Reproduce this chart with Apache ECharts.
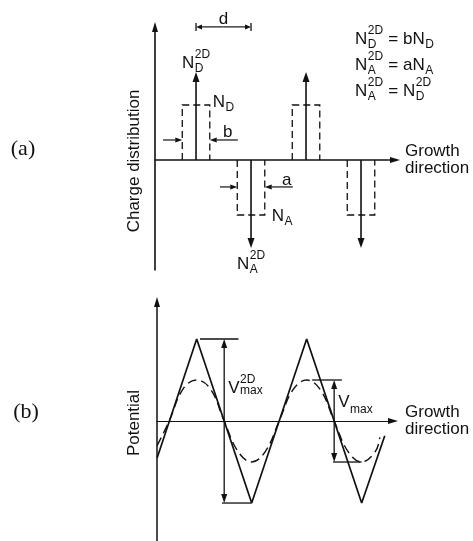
<!DOCTYPE html>
<html>
<head>
<meta charset="utf-8">
<script src="https://cdn.jsdelivr.net/npm/echarts@6/dist/echarts.min.js"></script>
<style>
  html, body { margin: 0; padding: 0; background: #fff; }
  #chart { width: 473px; height: 541px; }
</style>
</head>
<body>
<div id="chart"></div>
<script>
// Doping profile and resulting potential along the growth direction.
// x values are in units of the period d.

// (a) charge distribution
const donorX = [1.0, 2.0];        // delta-doped donor sheets
const acceptorX = [1.5, 2.5];     // delta-doped acceptor sheets
const sheetCharge = 1.6;          // N2D spike height
const bulkCharge = 1.0;           // N_D / N_A slab height
const layerHalf = 0.125;          // half thickness of the smeared layers (b, a)

// (b) potential: delta doping (solid) and slab doping (dashed)
const deltaX = [0.64, 1.0, 1.5, 2.0, 2.5, 2.71];
const deltaV = [-0.45, 1.0, -1.0, 1.0, -1.0, -0.18];
const slabX = [0.64, 0.75, 0.875, 1.0, 1.125, 1.25, 1.375, 1.5, 1.625, 1.75, 1.875, 2.0, 2.125, 2.25, 2.375, 2.5, 2.625, 2.665];
const slabV = [-0.3, 0, 0.39, 0.5, 0.39, 0, -0.37, -0.5, -0.37, 0, 0.38, 0.5, 0.38, 0, -0.37, -0.5, -0.37, -0.2];

const INK = '#111';
const SANS = '"Liberation Sans", Arial, Helvetica, sans-serif';
const SERIF = '"Liberation Serif", "Times New Roman", serif';

const zip = (xs, ys) => xs.map((x, i) => [x, ys[i]]);
const spikes = donorX.map(x => [x, sheetCharge]).concat(acceptorX.map(x => [x, -sheetCharge]));
const slabs = donorX.map(x => [x, bulkCharge]).concat(acceptorX.map(x => [x, -bulkCharge]));

function axisX(grid, min, max, lw) {
  return {
    type: 'value', gridIndex: grid, min, max,
    axisLine: { onZero: true, lineStyle: { color: INK, width: lw },
                symbol: ['none', 'triangle'], symbolSize: [6, 10] },
    axisTick: { show: false }, axisLabel: { show: false }, splitLine: { show: false }
  };
}
function axisY(grid, min, max, lw) {
  return {
    type: 'value', gridIndex: grid, min, max,
    axisLine: { onZero: false, lineStyle: { color: INK, width: lw },
                symbol: ['none', 'triangle'], symbolSize: [6, 10] },
    axisTick: { show: false }, axisLabel: { show: false }, splitLine: { show: false }
  };
}

function headPoints(tip, from, L, W) {
  const dx = tip[0] - from[0], dy = tip[1] - from[1];
  const len = Math.hypot(dx, dy) || 1;
  const ux = dx / len, uy = dy / len;
  const bx = tip[0] - ux * L, by = tip[1] - uy * L;
  const nx = -uy, ny = ux;
  return { base: [bx, by], pts: [tip, [bx + nx * W / 2, by + ny * W / 2], [bx - nx * W / 2, by - ny * W / 2]] };
}

function renderSpike(params, api) {
  const x = api.value(0), h = api.value(1);
  const p0 = api.coord([x, 0]);
  const p1 = api.coord([x, h]);
  const hd = headPoints(p1, p0, 10, 7);
  return {
    type: 'group',
    children: [
      { type: 'line', shape: { x1: p0[0], y1: p0[1], x2: hd.base[0], y2: hd.base[1] },
        style: { stroke: INK, lineWidth: 1.6 } },
      { type: 'polygon', shape: { points: hd.pts }, style: { fill: INK } }
    ]
  };
}

function renderSlab(params, api) {
  const x = api.value(0), h = api.value(1);
  const pts = [
    api.coord([x - layerHalf, 0]), api.coord([x - layerHalf, h]),
    api.coord([x + layerHalf, h]), api.coord([x + layerHalf, 0])
  ];
  return { type: 'polyline', shape: { points: pts },
           style: { stroke: INK, fill: 'none', lineWidth: 1.3, lineDash: [7, 4] } };
}

const chart = echarts.init(document.getElementById('chart'), null, { renderer: 'canvas' });
chart.setOption({
  animation: false,
  backgroundColor: '#fff',
  grid: [
    { left: 155, top: 27, width: 240, height: 243 },
    { left: 157, top: 302, width: 236, height: 239 }
  ],
  xAxis: [axisX(0, 0.627, 2.809, 1.6), axisX(1, 0.639, 2.785, 1.1)],
  yAxis: [axisY(0, -2, 2.418, 1.6), axisY(1, -1.463, 1.451, 1.5)],
  series: [
    { type: 'custom', xAxisIndex: 0, yAxisIndex: 0, data: slabs, renderItem: renderSlab, clip: false, silent: true },
    { type: 'custom', xAxisIndex: 0, yAxisIndex: 0, data: spikes, renderItem: renderSpike, clip: false, silent: true },
    { type: 'line', xAxisIndex: 1, yAxisIndex: 1, data: zip(slabX, slabV), smooth: 0.4,
      showSymbol: false, silent: true, lineStyle: { color: INK, width: 1.4, type: [9, 5] } },
    { type: 'line', xAxisIndex: 1, yAxisIndex: 1, data: zip(deltaX, deltaV),
      showSymbol: false, silent: true, lineStyle: { color: INK, width: 1.7 } }
  ]
});

// ---- annotations ----
const meas = document.createElement('canvas').getContext('2d');
function textW(s, size, family) {
  meas.font = size + 'px ' + (family || SANS);
  return meas.measureText(s).width;
}
function txt(s, x, baseline, size, family) {
  return {
    type: 'text', x: x, y: baseline - 0.35 * size, silent: true,
    style: { text: s, font: size + 'px ' + (family || SANS), fill: INK,
             align: 'left', verticalAlign: 'middle', textAlign: 'left', textVerticalAlign: 'middle' }
  };
}
// tokens: plain strings or {b, sup, sub, subDy}
function label(x, baseline, tokens, F, f) {
  F = F || 17; f = f || 12;
  const out = [];
  let cx = x;
  tokens.forEach(tk => {
    if (typeof tk === 'string') { out.push(txt(tk, cx, baseline, F)); cx += textW(tk, F); return; }
    out.push(txt(tk.b, cx, baseline, F)); cx += textW(tk.b, F);
    let w = 0;
    if (tk.sup) { out.push(txt(tk.sup, cx + 0.5, baseline - 10, f)); w = Math.max(w, textW(tk.sup, f)); }
    if (tk.sub) { out.push(txt(tk.sub, cx + 0.5, baseline + (tk.subDy == null ? 4 : tk.subDy), f)); w = Math.max(w, textW(tk.sub, f)); }
    cx += w + 1;
  });
  return out;
}
function seg(a, b, lw) {
  return { type: 'line', silent: true, shape: { x1: a[0], y1: a[1], x2: b[0], y2: b[1] },
           style: { stroke: INK, lineWidth: lw || 1.3 } };
}
function arrow(from, tip, L, W, lw) {
  const hd = headPoints(tip, from, L || 8, W || 6);
  return [seg(from, hd.base, lw), { type: 'polygon', silent: true, shape: { points: hd.pts }, style: { fill: INK } }];
}
function dblArrow(a, b, L, W, lw) {
  const m = [(a[0] + b[0]) / 2, (a[1] + b[1]) / 2];
  return arrow(m, a, L, W, lw).concat(arrow(m, b, L, W, lw));
}
function centered(s, x, y, size, family, rot) {
  return { type: 'text', x: x, y: y, rotation: rot || 0, silent: true,
           style: { text: s, font: size + 'px ' + (family || SANS), fill: INK, lineHeight: 17,
                    align: 'center', verticalAlign: 'middle', textAlign: 'center', textVerticalAlign: 'middle' } };
}
function leftBlock(s, x, y, size) {
  return { type: 'text', x: x, y: y, silent: true,
           style: { text: s, font: size + 'px ' + SANS, fill: INK, lineHeight: 17,
                    align: 'left', verticalAlign: 'middle', textAlign: 'left', textVerticalAlign: 'middle' } };
}

function annotate() {
  const A = (x, y) => chart.convertToPixel({ gridIndex: 0 }, [x, y]);
  const B = (x, y) => chart.convertToPixel({ gridIndex: 1 }, [x, y]);
  let g = [];

  // period marker d (donor to acceptor spacing)
  const dy = 2.42;
  const d0 = A(donorX[0], dy), d1 = A(acceptorX[0], dy);
  g.push(seg([d0[0], d0[1] - 4], [d0[0], d0[1] + 4]), seg([d1[0], d1[1] - 4], [d1[0], d1[1] + 4]));
  g = g.concat(dblArrow(d0, d1, 6, 5, 1.2));
  g.push(centered('d', (d0[0] + d1[0]) / 2, d0[1] - 8, 17));

  // layer thickness b
  const by = 0.364;
  g = g.concat(arrow(A(0.70, by), A(donorX[0] - layerHalf, by), 7, 5, 1.2));
  g = g.concat(arrow(A(1.38, by), A(donorX[0] + layerHalf, by), 7, 5, 1.2));
  const bl = A(donorX[0] + layerHalf, by);
  g.push(centered('b', bl[0] + 18, bl[1] - 8, 17));

  // layer thickness a
  const ay = -0.49;
  g = g.concat(arrow(A(1.218, ay), A(acceptorX[0] - layerHalf, ay), 7, 5, 1.2));
  g = g.concat(arrow(A(1.88, ay), A(acceptorX[0] + layerHalf, ay), 7, 5, 1.2));
  const al = A(acceptorX[0] + layerHalf, ay);
  g.push(centered('a', al[0] + 22, al[1] - 7, 17));

  // sheet and slab labels
  const tD = A(donorX[0], sheetCharge);
  g = g.concat(label(tD[0] - 14, tD[1] - 3, [{ b: 'N', sup: '2D', sub: 'D' }]));
  const cD = A(donorX[0] + layerHalf, bulkCharge);
  g = g.concat(label(cD[0] + 3, cD[1] + 3, [{ b: 'N', sub: 'D' }]));
  const cA = A(acceptorX[0] + layerHalf, -bulkCharge);
  g = g.concat(label(cA[0] + 7, cA[1] + 7, [{ b: 'N', sub: 'A' }]));
  const tA = A(acceptorX[0], -sheetCharge);
  g = g.concat(label(tA[0] - 14, tA[1] + 22, [{ b: 'N', sup: '2D', sub: 'A' }]));

  // relations
  g = g.concat(label(355, 45, [{ b: 'N', sup: '2D', sub: 'D' }, ' = ', { b: 'bN', sub: 'D' }]));
  g = g.concat(label(355, 71, [{ b: 'N', sup: '2D', sub: 'A' }, ' = ', { b: 'aN', sub: 'A' }]));
  g = g.concat(label(355, 97, [{ b: 'N', sup: '2D', sub: 'A' }, ' = ', { b: 'N', sup: '2D', sub: 'D' }]));

  // growth direction captions
  const eA = A(2.809, 0), eB = B(2.785, 0);
  g.push(leftBlock('Growth\ndirection', eA[0] + 10, eA[1], 17));
  g.push(leftBlock('Growth\ndirection', eB[0] + 12, eB[1], 17));

  // axis titles
  g.push(centered('Charge distribution', 134, A(0.627, 0)[1] + 1, 17, SANS, Math.PI / 2));
  g.push(centered('Potential', 134.5, B(0.639, 0)[1] + 2, 17, SANS, Math.PI / 2));

  // panel tags
  g.push(centered('(a)', 23, 149, 22, SERIF));
  g.push(centered('(b)', 26, 412, 22, SERIF));

  // V2Dmax: peak-to-trough of the delta-doped profile
  const xv = (donorX[0] + acceptorX[0]) / 2;
  const vTop = B(xv, deltaV[1]), vBot = B(xv, deltaV[2]);
  g = g.concat(dblArrow(vTop, vBot, 9, 6, 1.3));
  g.push(seg(B(1.03, deltaV[1]), B(1.38, deltaV[1])), seg(B(1.23, deltaV[2]), B(acceptorX[0], deltaV[2])));
  const vl = B(xv, 0.33);
  g = g.concat(label(vl[0] + 4, vl[1], [{ b: 'V', sup: '2D', sub: 'max', subDy: 1 }], 17, 12));

  // Vmax: peak-to-trough of the slab-doped profile
  const xw = (donorX[1] + acceptorX[1]) / 2;
  const wTop = B(xw, slabV[11]), wBot = B(xw, slabV[15]);
  g = g.concat(dblArrow(wTop, wBot, 9, 6, 1.3));
  g.push(seg(B(2.05, slabV[11]), B(2.32, slabV[11])), seg(B(2.24, slabV[15]), B(acceptorX[1], slabV[15])));
  const wl = B(xw, 0.16);
  g = g.concat(label(wl[0] + 4, wl[1], [{ b: 'V', sub: 'max', subDy: 6 }], 17, 12));

  chart.setOption({ graphic: g });
}
annotate();
</script>
</body>
</html>
